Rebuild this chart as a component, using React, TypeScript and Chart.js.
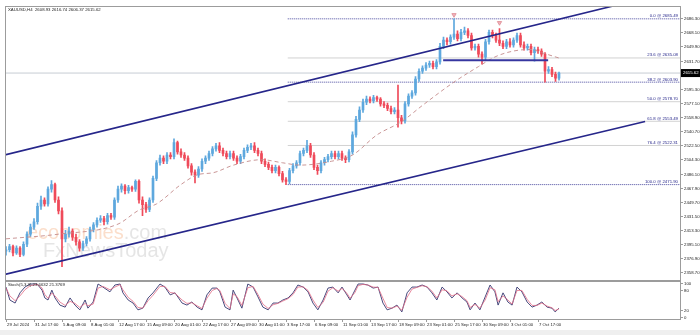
import React, { useEffect, useRef } from "react";
import { Chart, registerables } from "chart.js";
Chart.register(...registerables);

const SYMBOL = "XAUUSD,H4";

const opens = [
  2386, 2388, 2392, 2384, 2390, 2382, 2395, 2408, 2417, 2424,
  2444, 2452, 2447, 2466, 2472, 2452, 2438, 2402, 2408, 2412,
  2404, 2398, 2390, 2396, 2402, 2414, 2420, 2426, 2428, 2424,
  2432, 2430, 2452, 2466, 2470, 2464, 2468, 2466, 2476, 2452,
  2446, 2440, 2452, 2480, 2500, 2506, 2502, 2510, 2508, 2526,
  2514, 2510, 2506, 2496, 2488, 2484, 2492, 2502, 2506, 2512,
  2518, 2522, 2516, 2512, 2508, 2512, 2506, 2502, 2508, 2516,
  2520, 2522, 2516, 2512, 2502, 2498, 2494, 2490, 2494, 2486,
  2478, 2476, 2490, 2496, 2500, 2512, 2516, 2522, 2510, 2494,
  2490, 2500, 2504, 2508, 2512, 2508, 2512, 2506, 2504, 2514,
  2536, 2556, 2568, 2578, 2582, 2580, 2584, 2582, 2576, 2574,
  2570, 2566, 2568, 2558, 2554, 2576, 2586, 2590, 2608, 2618,
  2622, 2626, 2628, 2624, 2630, 2650, 2658, 2656, 2662, 2666,
  2660, 2668, 2670, 2664, 2648, 2650, 2640, 2636, 2656, 2668,
  2664, 2658, 2654, 2650, 2656, 2652, 2658, 2664, 2652, 2648,
  2650, 2642, 2646, 2644, 2640, 2618, 2620, 2614, 2608.93,
];
const highs = [
  2392, 2395, 2394, 2393, 2392, 2398, 2411, 2421, 2428, 2448,
  2457, 2455, 2469, 2477, 2474, 2456, 2442, 2413, 2417, 2415,
  2408, 2401, 2399, 2405, 2417, 2423, 2429, 2432, 2431, 2435,
  2435, 2455, 2470, 2473, 2472, 2471, 2470, 2478, 2478, 2456,
  2449, 2455, 2483, 2503, 2510, 2509, 2513, 2513, 2531, 2528,
  2518, 2513, 2509, 2499, 2491, 2495, 2505, 2509, 2515, 2521,
  2525, 2526, 2519, 2515, 2515, 2515, 2509, 2511, 2519, 2523,
  2525, 2526, 2519, 2515, 2505, 2501, 2497, 2497, 2496, 2489,
  2481, 2493, 2499, 2503, 2515, 2519, 2529, 2525, 2513, 2497,
  2503, 2507, 2511, 2515, 2515, 2515, 2515, 2509, 2517, 2540,
  2560, 2572, 2582, 2586, 2585, 2587, 2586, 2584, 2579, 2577,
  2573, 2571, 2600, 2561, 2579, 2589, 2593, 2611, 2621, 2625,
  2629, 2631, 2631, 2633, 2654, 2662, 2661, 2665, 2685.49, 2670,
  2672, 2675, 2673, 2667, 2653, 2653, 2643, 2659, 2671, 2671,
  2667, 2673, 2657, 2659, 2660, 2661, 2667, 2667, 2656, 2653,
  2653, 2649, 2649, 2647, 2642, 2624, 2623, 2617, 2616.74,
];
const lows = [
  2381, 2385, 2380, 2382, 2379, 2380, 2392, 2405, 2414, 2421,
  2440, 2444, 2444, 2462, 2449, 2434, 2366, 2398, 2404, 2400,
  2394, 2386, 2387, 2393, 2399, 2411, 2417, 2423, 2420, 2421,
  2427, 2427, 2449, 2462, 2460, 2461, 2463, 2463, 2448, 2432,
  2436, 2437, 2449, 2477, 2497, 2499, 2499, 2505, 2505, 2511,
  2507, 2503, 2493, 2484, 2474, 2481, 2489, 2499, 2503, 2509,
  2515, 2513, 2509, 2505, 2505, 2503, 2499, 2499, 2505, 2513,
  2517, 2513, 2509, 2499, 2495, 2491, 2487, 2487, 2483, 2475,
  2471.9, 2473, 2487, 2493, 2497, 2509, 2513, 2507, 2491, 2485,
  2487, 2497, 2501, 2505, 2505, 2505, 2503, 2500, 2501, 2511,
  2533, 2553, 2565, 2575, 2577, 2577, 2579, 2573, 2571, 2567,
  2563, 2563, 2546, 2550, 2551, 2573, 2583, 2587, 2605, 2615,
  2619, 2623, 2621, 2621, 2627, 2647, 2652, 2653, 2659, 2657,
  2657, 2665, 2661, 2645, 2645, 2636, 2627, 2633, 2653, 2661,
  2655, 2651, 2647, 2647, 2649, 2649, 2655, 2649, 2645, 2645,
  2639, 2631, 2641, 2637, 2604, 2615, 2611, 2605, 2606.37,
];
const closes = [
  2388, 2392, 2384, 2390, 2382, 2395, 2408, 2417, 2424, 2444,
  2452, 2447, 2466, 2472, 2452, 2438, 2402, 2408, 2412, 2404,
  2398, 2390, 2396, 2402, 2414, 2420, 2426, 2428, 2424, 2432,
  2430, 2452, 2466, 2470, 2464, 2468, 2466, 2476, 2452, 2446,
  2440, 2452, 2480, 2500, 2506, 2502, 2510, 2508, 2526, 2514,
  2510, 2506, 2496, 2488, 2484, 2492, 2502, 2506, 2512, 2518,
  2522, 2516, 2512, 2508, 2512, 2506, 2502, 2508, 2516, 2520,
  2522, 2516, 2512, 2502, 2498, 2494, 2490, 2494, 2486, 2478,
  2476, 2490, 2496, 2500, 2512, 2516, 2522, 2510, 2494, 2490,
  2500, 2504, 2508, 2512, 2508, 2512, 2506, 2504, 2514, 2536,
  2556, 2568, 2578, 2582, 2580, 2584, 2582, 2576, 2574, 2570,
  2566, 2568, 2558, 2554, 2576, 2586, 2590, 2608, 2618, 2622,
  2626, 2628, 2624, 2630, 2650, 2658, 2656, 2662, 2666, 2660,
  2668, 2670, 2664, 2648, 2650, 2640, 2636, 2656, 2668, 2664,
  2658, 2654, 2650, 2656, 2652, 2658, 2664, 2652, 2648, 2650,
  2642, 2646, 2644, 2640, 2618, 2620, 2614, 2608.93, 2615.62,
];

// moving average (dashed) read at bar positions
const maX = [0, 15, 32, 38, 43, 50, 55, 59, 65, 73, 79, 84, 93, 99, 106, 113, 119, 128, 135, 140, 145, 150, 153, 158];
const maY = [2402, 2408, 2421, 2439, 2447, 2472, 2485, 2487, 2497, 2504, 2500, 2497, 2502, 2510, 2536, 2553, 2574, 2604, 2624, 2637, 2644, 2646, 2642, 2635];

// trend channel and support line end points [bar, price]
const channelUpper = [[-0.3, 2510.1], [173.4, 2702.0]];
const channelLower = [[-0.3, 2356.2], [182.6, 2553.3]];
const supportLine = [[124.9, 2632.1], [154.9, 2632.1]];

// fractal markers [bar, price]
const markers = [[128, 2690.6], [141, 2680.4]];

// fibonacci retracement
const fibLevels = ["0.0", "23.6", "38.2", "50.0", "61.8", "76.4", "100.0"];
const fibPrices = [2685.49, 2635.08, 2603.9, 2578.7, 2553.49, 2522.31, 2471.9];
const fibDotted = [true, false, true, false, false, false, true];
const fibStart = 80.5;

const yTicks = [2686.3, 2668.1, 2649.9, 2631.7, 2613.5, 2595.3, 2577.1, 2558.9, 2540.7, 2522.5, 2504.3, 2486.1, 2467.9, 2449.7, 2431.5, 2413.3, 2395.1, 2376.9, 2358.7];
const xLabels = ["29 Jul 2024", "31 Jul 17:00", "5 Aug 09:00", "8 Aug 01:00", "12 Aug 17:00", "15 Aug 09:00", "20 Aug 01:00", "22 Aug 17:00", "27 Aug 09:00", "30 Aug 01:00", "3 Sep 17:00", "6 Sep 09:00", "11 Sep 01:00", "13 Sep 17:00", "18 Sep 09:00", "23 Sep 01:00", "25 Sep 17:00", "30 Sep 09:00", "3 Oct 01:00", "7 Oct 17:00"];
const xLabelStep = 8;

// stochastic
const stochTitle = "Stoch(5,3,3) 23.6632 21.3769";
const stochX = [
  0, 1.1, 2.6, 4, 5.4, 6.9, 8.9, 10.3, 11.1, 12,
  13.1, 14, 15.4, 16.9, 18.3, 19.7, 21.1, 22.6, 23.4, 24.9,
  26.3, 27.7, 29.7, 31.1, 32.6, 33.4, 34.9, 36.3, 37.7, 39.1,
  40.6, 42, 44, 45.4, 46.9, 48.3, 50.3, 51.7, 53.1, 54.6,
  56, 57.4, 58.9, 60.3, 61.1, 62.6, 64, 64.9, 66, 67.4,
  69.1, 70.6, 72, 73.4, 74.9, 76.3, 77.7, 79.1, 80.6, 82,
  83.4, 84.9, 86.3, 87.7, 89.1, 90.6, 92, 93.4, 94.9, 96,
  97.4, 98.3, 99.7, 100.6, 102, 103.4, 104.9, 106.3, 107.7, 108.9,
  110.3, 111.7, 113.1, 114.6, 116, 117.4, 118.9, 120.3, 121.7, 123.1,
  124.6, 126, 127.4, 128.9, 130.3, 131.7, 132.6, 134, 135.4, 136.9,
  138.3, 139.7, 140.6, 142, 143.4, 144.6, 146, 147.4, 148.9, 150.3,
  151.7, 153.1, 154.6, 156, 156.9, 158,
];
const stochK = [
  88, 50, 41, 71, 88, 97, 97, 79, 56, 50,
  79, 56, 35, 29, 56, 35, 21, 50, 26, 44,
  97, 88, 74, 94, 97, 71, 50, 41, 21, 26,
  56, 71, 97, 88, 65, 71, 41, 35, 44, 29,
  21, 65, 85, 85, 74, 29, 21, 79, 56, 26,
  97, 88, 59, 29, 21, 41, 41, 50, 56, 71,
  94, 88, 74, 41, 21, 50, 85, 88, 71, 88,
  65, 50, 79, 97, 97, 94, 85, 88, 41, 21,
  26, 35, 15, 71, 88, 88, 94, 88, 71, 50,
  88, 74, 56, 71, 56, 44, 21, 41, 21, 59,
  94, 74, 35, 71, 44, 35, 88, 74, 44, 29,
  35, 44, 29, 26, 15, 26,
];
const stochD = [
  85, 62, 48, 62, 80, 92, 96, 85, 66, 55,
  70, 62, 44, 34, 46, 40, 28, 40, 33, 38,
  85, 90, 80, 88, 95, 80, 58, 46, 28, 26,
  48, 64, 90, 90, 72, 70, 50, 40, 42, 33,
  25, 55, 78, 84, 78, 40, 25, 68, 60, 34,
  86, 90, 66, 38, 25, 36, 40, 47, 54, 66,
  88, 89, 78, 50, 28, 43, 76, 86, 76, 84,
  70, 55, 72, 92, 96, 94, 88, 87, 55, 28,
  26, 32, 20, 58, 82, 87, 92, 89, 76, 56,
  80, 77, 62, 68, 60, 48, 28, 37, 26, 50,
  86, 80, 45, 62, 50, 38, 78, 78, 52, 34,
  34, 41, 32, 27, 19, 24,
];
const stochTicks = [100, 80, 20, 0];

const X_MIN = -0.2857;
const X_MAX = 192.571;
const Y_MIN = 2353.86;
const Y_MAX = 2700.74;
const FONT = '4.3px "Liberation Sans", Arial, sans-serif';
const BULL = "#5ea8de";
const BEAR = "#ef4a5a";
const NAVY = "#26268a";

function line(points: number[][], color: string, width: number, dash: number[] = [], order = 0) {
  return {
    type: "line" as const,
    data: points.map((p) => ({ x: p[0], y: p[1] })),
    borderColor: color,
    borderWidth: width,
    borderDash: dash,
    pointRadius: 0,
    fill: false,
    order,
  };
}

export default function App() {
  const mainRef = useRef<HTMLCanvasElement>(null);
  const stochRef = useRef<HTMLCanvasElement>(null);

  useEffect(() => {
    const N = closes.length;
    const idx = closes.map((_, i) => i);
    const colors = idx.map((i) => (closes[i] >= opens[i] ? BULL : BEAR));
    const last = N - 1;

    const mainDecor = {
      id: "mainDecor",
      beforeDatasetsDraw(chart: any) {
        const ctx = chart.ctx;
        ctx.save();
        ctx.font = '20px "Liberation Sans", Arial, sans-serif';
        ctx.textBaseline = "middle";
        ctx.fillStyle = "rgba(244,168,118,0.38)";
        ctx.fillText("economies", 27, 233);
        const w = ctx.measureText("economies").width;
        ctx.fillStyle = "rgba(190,190,190,0.4)";
        ctx.fillText(".com", 27 + w, 233);
        ctx.fillText("FxNewsToday", 43, 251);
        ctx.restore();
      },
      afterDraw(chart: any) {
        const ctx = chart.ctx;
        const ys = chart.scales.y;
        ctx.save();
        ctx.strokeStyle = "#9c9c9c";
        ctx.lineWidth = 1;
        ctx.strokeRect(5.5, 6.5, 675, 274);
        ctx.font = FONT;
        ctx.textBaseline = "middle";
        ctx.fillStyle = "#222";
        yTicks.forEach((v) => {
          const y = Math.round(ys.getPixelForValue(v)) + 0.5;
          ctx.beginPath();
          ctx.moveTo(680, y);
          ctx.lineTo(683, y);
          ctx.stroke();
          ctx.fillText(v.toFixed(2), 684, y);
        });
        const py = ys.getPixelForValue(closes[last]);
        ctx.fillStyle = "#000";
        ctx.fillRect(681, py - 4, 19, 8);
        ctx.fillStyle = "#fff";
        ctx.fillText(closes[last].toFixed(2), 683, py);
        ctx.fillStyle = NAVY;
        ctx.textAlign = "right";
        ctx.textBaseline = "bottom";
        fibLevels.forEach((lv, i) => {
          const y = ys.getPixelForValue(fibPrices[i]);
          ctx.fillText(`${lv} @ ${fibPrices[i].toFixed(2)}`, 678, y - 0.5);
        });
        ctx.textAlign = "left";
        ctx.textBaseline = "middle";
        ctx.fillStyle = "#222";
        ctx.fillText(
          `${SYMBOL}  ${opens[last].toFixed(2)} ${highs[last].toFixed(2)} ${lows[last].toFixed(2)} ${closes[last].toFixed(2)}`,
          8,
          10
        );
        ctx.restore();
      },
    };

    const fibSets = fibPrices.map((p, i) =>
      line([[fibStart, p], [X_MAX, p]], fibDotted[i] ? "#4a4aa0" : "#d2d2d2", 1, fibDotted[i] ? [1, 1] : [], 8)
    );

    const main = new Chart(mainRef.current!, {
      type: "bar",
      data: {
        datasets: [
          ...fibSets,
          line([[X_MIN, closes[last]], [X_MAX, closes[last]]], "#c6ccd4", 1, [], 9),
          {
            type: "bar",
            data: idx.map((i) => ({ x: i, y: [lows[i], highs[i]] })),
            backgroundColor: colors,
            barThickness: 1,
            grouped: false,
            order: 4,
          } as any,
          {
            type: "bar",
            data: idx.map((i) => ({ x: i, y: [opens[i], closes[i]] })),
            backgroundColor: colors,
            barThickness: 2,
            grouped: false,
            order: 3,
          } as any,
          {
            ...line(maX.map((x, i) => [x, maY[i]]), "rgba(196,140,140,0.9)", 1, [4, 3], 2),
            cubicInterpolationMode: "monotone",
          } as any,
          line(channelUpper, NAVY, 1.6, [], 1),
          line(channelLower, NAVY, 1.6, [], 1),
          line(supportLine, "#3636a0", 2, [], 1),
          {
            type: "line",
            data: markers.map((m) => ({ x: m[0], y: m[1] })),
            showLine: false,
            pointStyle: "triangle",
            rotation: 180,
            pointRadius: 2.5,
            backgroundColor: "rgba(236,160,170,0.8)",
            borderColor: "rgba(220,130,140,0.9)",
            borderWidth: 0.8,
            order: 0,
          } as any,
        ],
      },
      options: {
        animation: false,
        responsive: false,
        events: [],
        layout: { padding: { left: 5, right: 20, top: 7, bottom: 1 } },
        plugins: { legend: { display: false }, tooltip: { enabled: false } },
        scales: {
          x: { type: "linear", min: X_MIN, max: X_MAX, display: false, offset: false },
          y: { type: "linear", min: Y_MIN, max: Y_MAX, display: false },
        },
      },
      plugins: [mainDecor],
    });

    const stochDecor = {
      id: "stochDecor",
      afterDraw(chart: any) {
        const ctx = chart.ctx;
        const ys = chart.scales.y;
        const xs = chart.scales.x;
        ctx.save();
        ctx.strokeStyle = "#9c9c9c";
        ctx.lineWidth = 1;
        ctx.strokeRect(5.5, 0.5, 675, 38);
        ctx.font = FONT;
        ctx.fillStyle = "#222";
        ctx.textBaseline = "middle";
        stochTicks.forEach((v) => {
          const y = Math.round(ys.getPixelForValue(v)) + 0.5;
          ctx.beginPath();
          ctx.moveTo(680, y);
          ctx.lineTo(683, y);
          ctx.stroke();
          ctx.fillText(String(v), 684, y);
        });
        ctx.fillText(stochTitle, 8, 4);
        xLabels.forEach((t, k) => {
          const x = Math.round(xs.getPixelForValue(k * xLabelStep)) + 0.5;
          ctx.beginPath();
          ctx.moveTo(x, 38.5);
          ctx.lineTo(x, 41);
          ctx.stroke();
          ctx.fillText(t, x + 0.5, 43.5);
        });
        ctx.restore();
      },
    };

    const stoch = new Chart(stochRef.current!, {
      type: "line",
      data: {
        datasets: [
          {
            data: stochX.map((x, i) => ({ x, y: stochK[i] })),
            borderColor: "#34366e",
            borderWidth: 0.9,
            pointRadius: 0,
            order: 1,
          },
          {
            data: stochX.map((x, i) => ({ x, y: stochD[i] })),
            borderColor: "rgba(226,110,136,0.9)",
            borderWidth: 0.9,
            pointRadius: 0,
            order: 0,
          },
        ],
      },
      options: {
        animation: false,
        responsive: false,
        events: [],
        layout: { padding: { left: 5, right: 20, top: 1, bottom: 16 } },
        plugins: { legend: { display: false }, tooltip: { enabled: false } },
        scales: {
          x: { type: "linear", min: X_MIN, max: X_MAX, display: false },
          y: { type: "linear", min: -5.9, max: 102.9, display: false },
        },
      },
      plugins: [stochDecor],
    });

    return () => {
      main.destroy();
      stoch.destroy();
    };
  }, []);

  return (
    <div style={{ position: "absolute", left: 0, top: 0, width: 700, height: 335, background: "#fff", overflow: "hidden" }}>
      <canvas ref={mainRef} width={700} height={281} style={{ position: "absolute", left: 0, top: 0 }} />
      <canvas ref={stochRef} width={700} height={54} style={{ position: "absolute", left: 0, top: 281 }} />
      <div style={{ position: "absolute", left: 0, top: 330, width: 700, height: 5, background: "#efefef" }} />
    </div>
  );
}
